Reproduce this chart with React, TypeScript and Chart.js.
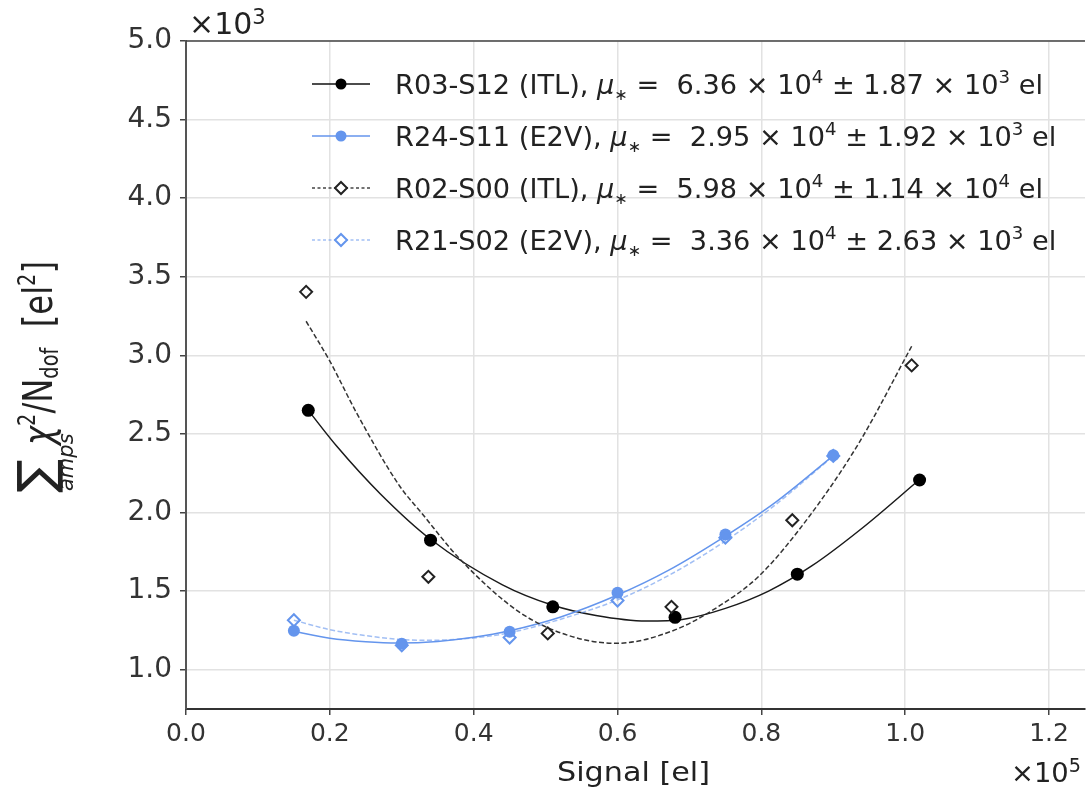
import React, { useEffect, useRef } from "react";
import { Chart, registerables } from "chart.js";

Chart.register(...registerables);

// ---------- data (x in electrons, y in el^2) ----------
const r03X = [17000, 34000, 51000, 68000, 85000, 102000];
const r03Y = [2650, 1824, 1400, 1333, 1608, 2207];
const r24X = [15000, 30000, 45000, 60000, 75000, 90000];
const r24Y = [1248, 1165, 1242, 1490, 1860, 2365];
const r02X = [16700, 33700, 50300, 67500, 84300, 100900];
const r02Y = [3404, 1591, 1231, 1400, 1951, 2936];
const r21X = [15000, 30000, 45000, 60000, 75000, 90000];
const r21Y = [1315, 1155, 1205, 1440, 1840, 2360];

// fitted curves
const fitR03X = [17000, 21000, 27000, 34000, 44000, 51000, 57000, 64000, 69000, 75000, 81000, 87000, 94000, 102000];
const fitR03Y = [2650, 2420, 2120, 1830, 1540, 1410, 1345, 1310, 1320, 1390, 1500, 1660, 1900, 2210];
const fitR02X = [16700, 20000, 23700, 29700, 32700, 38100, 46400, 53300, 59800, 67700, 74200, 79700, 86700, 93600, 100900];
const fitR02Y = [3217, 2963, 2635, 2169, 2000, 1703, 1365, 1216, 1168, 1248, 1407, 1597, 1978, 2445, 3058];
const fitR24X = [15000, 20000, 25000, 29500, 35000, 40000, 45000, 52000, 60000, 67000, 75000, 82000, 90000];
const fitR24Y = [1245, 1200, 1178, 1170, 1180, 1206, 1248, 1334, 1475, 1630, 1850, 2066, 2362];
const fitR21X = [15000, 20000, 25000, 30000, 33600, 40000, 45000, 52000, 60000, 67000, 75000, 82000, 90000];
const fitR21Y = [1315, 1255, 1217, 1192, 1187, 1202, 1235, 1320, 1444, 1597, 1819, 2051, 2360];

// axis ticks
const xTicks = [0, 20000, 40000, 60000, 80000, 100000, 120000];
const yTicks = [1000, 1500, 2000, 2500, 3000, 3500, 4000, 4500, 5000];

// legend texts
const legendNames = ["R03-S12 (ITL)", "R24-S11 (E2V)", "R02-S00 (ITL)", "R21-S02 (E2V)"];
const muMant = ["6.36", "2.95", "5.98", "3.36"];
const muExp = ["4", "4", "4", "4"];
const errMant = ["1.87", "1.92", "1.14", "2.63"];
const errExp = ["3", "3", "4", "3"];

const xTitle = "Signal [el]";
const xMult = "5";
const yMult = "3";

const FONT = "'DejaVu Sans', sans-serif";
const BLUE = "#6495ED";
const BLUE_LIGHT = "rgba(100,149,237,0.6)";

const pts = (xs: number[], ys: number[]) => xs.map((x, i) => ({ x, y: ys[i] }));

type Seg = { t: string; s: number; it?: boolean; dy?: number };

function setFont(ctx: CanvasRenderingContext2D, g: Seg) {
  ctx.font = `${g.it ? "italic " : ""}${g.s}px ${FONT}`;
}
function segsWidth(ctx: CanvasRenderingContext2D, segs: Seg[]) {
  let w = 0;
  for (const g of segs) {
    setFont(ctx, g);
    w += ctx.measureText(g.t).width;
  }
  return w;
}
function drawSegs(ctx: CanvasRenderingContext2D, segs: Seg[], x: number, y: number) {
  for (const g of segs) {
    setFont(ctx, g);
    ctx.fillText(g.t, x, y + (g.dy || 0));
    x += ctx.measureText(g.t).width;
  }
  return x;
}
// draw segments squeezed/stretched horizontally to a given total width
function drawFit(ctx: CanvasRenderingContext2D, segs: Seg[], x: number, y: number, width: number) {
  const w = segsWidth(ctx, segs);
  ctx.save();
  ctx.translate(x, y);
  ctx.scale(width / w, 1);
  drawSegs(ctx, segs, 0, 0);
  ctx.restore();
}

function legendSegs(i: number): Seg[] {
  return [
    { t: legendNames[i] + ", ", s: 27 },
    { t: "μ", s: 27, it: true },
    { t: "∗", s: 16, dy: 6 },
    { t: " =  " + muMant[i] + " × 10", s: 27 },
    { t: muExp[i], s: 18, dy: -11 },
    { t: " ± " + errMant[i] + " × 10", s: 27 },
    { t: errExp[i], s: 18, dy: -11 },
    { t: " el", s: 27 },
  ];
}

function drawDiamond(ctx: CanvasRenderingContext2D, x: number, y: number, r: number, color: string) {
  ctx.beginPath();
  ctx.moveTo(x, y - r);
  ctx.lineTo(x + r, y);
  ctx.lineTo(x, y + r);
  ctx.lineTo(x - r, y);
  ctx.closePath();
  ctx.lineWidth = 2;
  ctx.strokeStyle = color;
  ctx.stroke();
}

const annotations = {
  id: "annotations",
  afterDraw(chart: any) {
    const ctx: CanvasRenderingContext2D = chart.ctx;
    const a = chart.chartArea;
    ctx.save();
    // top spine
    ctx.strokeStyle = "#444";
    ctx.lineWidth = 1.5;
    ctx.beginPath();
    ctx.moveTo(a.left, a.top);
    ctx.lineTo(a.right, a.top);
    ctx.stroke();

    ctx.fillStyle = "#222";
    ctx.textBaseline = "alphabetic";
    ctx.textAlign = "left";

    // legend
    const rowsY = [84, 136, 188, 240];
    const styles = [
      { line: "#111", dash: [] as number[], marker: "dot", mc: "#000" },
      { line: BLUE, dash: [] as number[], marker: "dot", mc: BLUE },
      { line: "#444", dash: [3, 2.5], marker: "dia", mc: "#222" },
      { line: BLUE_LIGHT, dash: [3, 2.5], marker: "dia", mc: BLUE },
    ];
    const w0 = segsWidth(ctx, legendSegs(0));
    const sx = 648 / w0;
    for (let i = 0; i < 4; i++) {
      const cy = rowsY[i];
      const st = styles[i];
      ctx.save();
      ctx.setLineDash(st.dash);
      ctx.strokeStyle = st.line;
      ctx.lineWidth = 1.5;
      ctx.beginPath();
      ctx.moveTo(312, cy);
      ctx.lineTo(370, cy);
      ctx.stroke();
      ctx.setLineDash([]);
      if (st.marker === "dot") {
        ctx.fillStyle = st.mc;
        ctx.beginPath();
        ctx.arc(341, cy, 5.5, 0, Math.PI * 2);
        ctx.fill();
      } else {
        ctx.fillStyle = "#fff";
        ctx.beginPath();
        ctx.moveTo(341, cy - 6);
        ctx.lineTo(347, cy);
        ctx.lineTo(341, cy + 6);
        ctx.lineTo(335, cy);
        ctx.closePath();
        ctx.fill();
        drawDiamond(ctx, 341, cy, 6, st.mc);
      }
      ctx.restore();
      ctx.save();
      ctx.fillStyle = "#222";
      ctx.translate(395, cy + 10);
      ctx.scale(sx, 1);
      drawSegs(ctx, legendSegs(i), 0, 0);
      ctx.restore();
    }

    // multipliers
    drawSegs(ctx, [{ t: "×10", s: 30 }, { t: yMult, s: 21, dy: -10 }], 189, 34);
    drawFit(ctx, [{ t: "×10", s: 27 }, { t: xMult, s: 19, dy: -10 }], 1011, 782, 70);

    // x title
    drawFit(ctx, [{ t: xTitle, s: 27 }], (a.left + a.right) / 2 - 153 / 2 - 2, 781, 153);

    // y title (rotated)
    ctx.save();
    ctx.translate(52, 493);
    ctx.rotate(-Math.PI / 2);
    ctx.font = `50px ${FONT}`;
    ctx.fillText("∑", 0, 1);
    ctx.font = `italic 21px ${FONT}`;
    ctx.fillText("amps", 2, 21);
    const main: Seg[] = [
      { t: "χ", s: 40, it: true },
      { t: "2", s: 24, dy: -17 },
      { t: "/N", s: 40 },
      { t: "dof", s: 24, dy: 6 },
      { t: "  [el", s: 40 },
      { t: "2", s: 24, dy: -17 },
      { t: "]", s: 40 },
    ];
    drawFit(ctx, main, 48, 0, 184);
    ctx.restore();

    ctx.restore();
  },
};

export default function App() {
  const ref = useRef<HTMLCanvasElement>(null);
  useEffect(() => {
    const canvas = ref.current!;
    const lineDs = (xs: number[], ys: number[], color: string, dash: number[], order: number) => ({
      data: pts(xs, ys),
      showLine: true,
      pointRadius: 0,
      borderColor: color,
      borderWidth: 1.5,
      borderDash: dash,
      fill: false,
      cubicInterpolationMode: "monotone" as const,
      order,
    });
    const chart = new Chart(canvas, {
      type: "scatter",
      data: {
        datasets: [
          {
            data: pts(r21X, r21Y),
            pointStyle: "rectRot",
            pointRadius: 6,
            pointBorderWidth: 2,
            borderColor: BLUE,
            backgroundColor: "rgba(0,0,0,0)",
            order: 1,
          } as any,
          {
            data: pts(r02X, r02Y),
            pointStyle: "rectRot",
            pointRadius: 6,
            pointBorderWidth: 2,
            borderColor: "#222",
            backgroundColor: "rgba(0,0,0,0)",
            order: 2,
          },
          lineDs(fitR21X, fitR21Y, BLUE_LIGHT, [5, 2.5], 3),
          lineDs(fitR02X, fitR02Y, "#333", [5, 2.5], 4),
          {
            data: pts(r24X, r24Y),
            pointStyle: "circle",
            pointRadius: 6,
            borderWidth: 0,
            backgroundColor: BLUE,
            borderColor: BLUE,
            order: 5,
          },
          lineDs(fitR24X, fitR24Y, BLUE, [], 6),
          {
            data: pts(r03X, r03Y),
            pointStyle: "circle",
            pointRadius: 6.5,
            borderWidth: 0,
            backgroundColor: "#000",
            borderColor: "#000",
            order: 7,
          },
          lineDs(fitR03X, fitR03Y, "#1a1a1a", [], 8),
        ] as any,
      },
      options: {
        animation: false,
        responsive: false,
        devicePixelRatio: 1,
        layout: { autoPadding: false, padding: { top: 41, right: 1, left: 0, bottom: 0 } },
        plugins: { legend: { display: false }, tooltip: { enabled: false } },
        scales: {
          x: {
            type: "linear",
            min: 0,
            max: 125000,
            afterBuildTicks: (s: any) => {
              s.ticks = xTicks.map((v) => ({ value: v }));
            },
            afterFit: (s: any) => {
              s.height = 80;
              s.paddingLeft = 0;
              s.paddingRight = 0;
            },
            grid: { color: "#e2e2e2", lineWidth: 1.5, tickColor: "#444", tickLength: 6, tickWidth: 1.5 },
            border: { color: "#333", width: 2 },
            ticks: {
              autoSkip: false,
              maxRotation: 0,
              padding: 4,
              color: "#333",
              font: { family: FONT, size: 25 },
              callback: (v: any) => (Number(v) / 1e5).toFixed(1),
            },
          },
          y: {
            type: "linear",
            min: 750,
            max: 5000,
            afterBuildTicks: (s: any) => {
              s.ticks = yTicks.map((v) => ({ value: v }));
            },
            afterFit: (s: any) => {
              s.width = 186;
              s.paddingTop = 0;
              s.paddingBottom = 0;
            },
            grid: { color: "#e2e2e2", lineWidth: 1.5, tickColor: "#444", tickLength: 6, tickWidth: 1.5 },
            border: { color: "#555", width: 2 },
            ticks: {
              autoSkip: false,
              padding: 8,
              color: "#333",
              font: { family: FONT, size: 28 },
              callback: (v: any) => (Number(v) / 1e3).toFixed(1),
            },
          },
        },
      },
      plugins: [annotations],
    });
    return () => chart.destroy();
  }, []);
  return (
    <div style={{ position: "absolute", left: 0, top: 0, width: 1086, height: 789, background: "#fff" }}>
      <canvas ref={ref} width={1086} height={789} style={{ display: "block", width: 1086, height: 789 }} />
    </div>
  );
}
